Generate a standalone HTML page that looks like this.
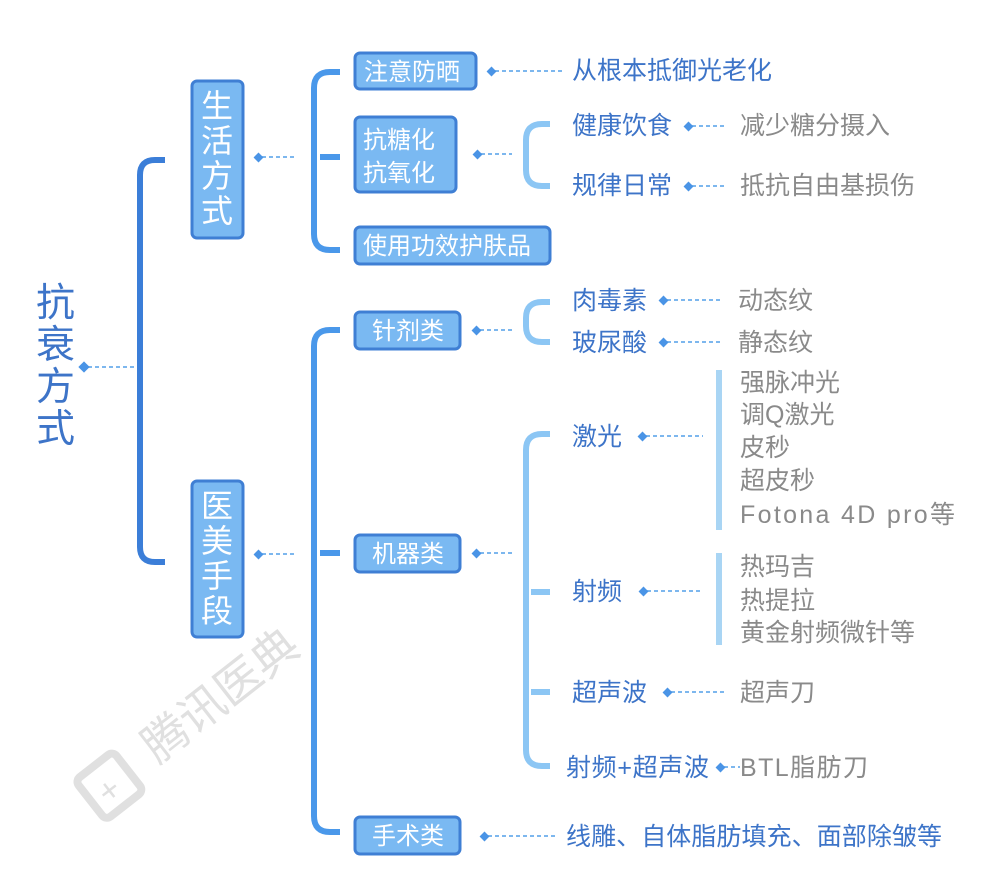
<!DOCTYPE html>
<html><head><meta charset="utf-8"><style>
html,body{margin:0;padding:0;background:#fff;}
svg{display:block;}
text{font-family:"Liberation Sans","Noto Sans CJK SC",sans-serif;}
.b{fill:#3d74c8;font-size:25px;}
.g{fill:#8a8a8a;font-size:25px;}
.w{fill:#fff;font-size:24px;}
.box{fill:#7ab9f2;stroke:#3f7fd4;stroke-width:3;}
.d{stroke:#7db7ee;stroke-width:2;stroke-dasharray:4 3;fill:none;}
.dm{fill:#4a94e6;}
</style></head><body>
<svg width="990" height="895" viewBox="0 0 990 895" xmlns="http://www.w3.org/2000/svg">
<g transform="translate(195,715) rotate(-38)">
<text x="-60" y="16" font-size="46" fill="#e0e0e0">腾讯医典</text>
<rect x="-135" y="-22" width="48" height="50" rx="6" fill="none" stroke="#e0e0e0" stroke-width="8"/>
<text x="-124" y="18" font-size="34" fill="#e0e0e0">+</text>
</g>
<g class="b">
<text x="36" y="316" style="font-size:39px">抗</text>
<text x="36" y="358" style="font-size:39px">衰</text>
<text x="36" y="400" style="font-size:39px">方</text>
<text x="36" y="442" style="font-size:39px">式</text>
</g>
<path class="d" d="M88 367 H136"/><rect class="dm" x="80" y="363" width="8" height="8" transform="rotate(45 84 367)"/>
<path d="M165 160 H155 Q140 160 140 175 V547 Q140 562 155 562 H165" stroke="#3b7ed8" stroke-width="6" fill="none"/>
<rect class="box" x="192" y="81" width="51" height="157" rx="5"/>
<g class="w"><text x="201" y="117" style="font-size:32px">生</text><text x="201" y="152" style="font-size:32px">活</text><text x="201" y="187" style="font-size:32px">方</text><text x="201" y="222" style="font-size:32px">式</text></g>
<rect class="box" x="192" y="481" width="51" height="156" rx="5"/>
<g class="w"><text x="201" y="517" style="font-size:32px">医</text><text x="201" y="552" style="font-size:32px">美</text><text x="201" y="587" style="font-size:32px">手</text><text x="201" y="622" style="font-size:32px">段</text></g>
<path class="d" d="M262 157 H296"/><rect class="dm" x="255" y="154" width="7" height="7" transform="rotate(45 258.5 157.5)"/>
<path class="d" d="M262 554 H296"/><rect class="dm" x="255" y="551" width="7" height="7" transform="rotate(45 258.5 554.5)"/>
<path d="M340 72 H330 Q314 72 314 88 V234 Q314 250 330 250 H340 M320 157 H340" stroke="#4a98ea" stroke-width="6" fill="none"/>
<rect class="box" x="355" y="53" width="121" height="36" rx="5"/><text class="w" x="364" y="80">注意防晒</text>
<rect class="box" x="355" y="117" width="101" height="75" rx="5"/><text class="w" x="363" y="148">抗糖化</text><text class="w" x="363" y="181">抗氧化</text>
<rect class="box" x="355" y="227" width="195" height="37" rx="5"/><text class="w" x="363" y="254">使用功效护肤品</text>
<path class="d" d="M495 71 H564"/><rect class="dm" x="488" y="68" width="7" height="7" transform="rotate(45 491.5 71.5)"/>
<text class="b" x="572" y="79">从根本抵御光老化</text>
<path class="d" d="M481 154 H512"/><rect class="dm" x="474" y="151" width="7" height="7" transform="rotate(45 477.5 154.5)"/>
<path d="M550 124 H542 Q526 124 526 140 V170 Q526 186 542 186 H550" stroke="#8cc6f4" stroke-width="6" fill="none"/>
<text class="b" x="572" y="134">健康饮食</text><text class="b" x="572" y="194">规律日常</text>
<path class="d" d="M692 126 H725"/><rect class="dm" x="685" y="123" width="7" height="7" transform="rotate(45 688.5 126.5)"/>
<path class="d" d="M692 186 H725"/><rect class="dm" x="685" y="183" width="7" height="7" transform="rotate(45 688.5 186.5)"/>
<text class="g" x="740" y="134">减少糖分摄入</text><text class="g" x="740" y="194">抵抗自由基损伤</text>
<path d="M340 330 H330 Q314 330 314 346 V816 Q314 832 330 832 H340 M320 553 H340" stroke="#4a98ea" stroke-width="6" fill="none"/>
<rect class="box" x="355" y="312" width="105" height="37" rx="5"/><text class="w" x="372" y="339">针剂类</text>
<rect class="box" x="355" y="535" width="105" height="37" rx="5"/><text class="w" x="372" y="562">机器类</text>
<rect class="box" x="355" y="817" width="105" height="37" rx="5"/><text class="w" x="372" y="844">手术类</text>
<path class="d" d="M480 330 H512"/><rect class="dm" x="473" y="327" width="7" height="7" transform="rotate(45 476.5 330.5)"/>
<path class="d" d="M480 553 H512"/><rect class="dm" x="473" y="550" width="7" height="7" transform="rotate(45 476.5 553.5)"/>
<path class="d" d="M488 836 H555"/><rect class="dm" x="481" y="833" width="7" height="7" transform="rotate(45 484.5 836.5)"/>
<text class="b" x="566" y="845" textLength="376">线雕、自体脂肪填充、面部除皱等</text>
<path d="M550 302 H542 Q526 302 526 318 V326 Q526 342 542 342 H550" stroke="#8cc6f4" stroke-width="6" fill="none"/>
<text class="b" x="572" y="309">肉毒素</text><text class="b" x="572" y="351">玻尿酸</text>
<path class="d" d="M667 300 H723"/><rect class="dm" x="660" y="297" width="7" height="7" transform="rotate(45 663.5 300.5)"/>
<path class="d" d="M667 342 H723"/><rect class="dm" x="660" y="339" width="7" height="7" transform="rotate(45 663.5 342.5)"/>
<text class="g" x="738" y="309">动态纹</text><text class="g" x="738" y="351">静态纹</text>
<path d="M550 434 H542 Q526 434 526 450 V750 Q526 766 542 766 H550 M531 592 H550 M531 692 H550" stroke="#8cc6f4" stroke-width="6" fill="none"/>
<text class="b" x="572" y="445">激光</text>
<path class="d" d="M646 436 H703"/><rect class="dm" x="639" y="433" width="7" height="7" transform="rotate(45 642.5 436.5)"/>
<rect x="716" y="370" width="6" height="160" fill="#a9d5f4"/>
<text class="g" x="740" y="391">强脉冲光</text><text class="g" x="740" y="423">调Q激光</text><text class="g" x="740" y="456">皮秒</text><text class="g" x="740" y="489">超皮秒</text><text class="g" x="740" y="523" textLength="215">Fotona 4D pro等</text>
<text class="b" x="572" y="600">射频</text>
<path class="d" d="M647 591 H703"/><rect class="dm" x="640" y="588" width="7" height="7" transform="rotate(45 643.5 591.5)"/>
<rect x="716" y="553" width="6" height="92" fill="#a9d5f4"/>
<text class="g" x="740" y="575">热玛吉</text><text class="g" x="740" y="609">热提拉</text><text class="g" x="740" y="641">黄金射频微针等</text>
<text class="b" x="572" y="701">超声波</text>
<path class="d" d="M671 692 H727"/><rect class="dm" x="664" y="689" width="7" height="7" transform="rotate(45 667.5 692.5)"/>
<text class="g" x="740" y="701">超声刀</text>
<text class="b" x="566" y="776" textLength="143">射频+超声波</text>
<path class="d" d="M724 767 H740"/><rect class="dm" x="717" y="764" width="7" height="7" transform="rotate(45 720.5 767.5)"/>
<text class="g" x="740" y="776" textLength="128">BTL脂肪刀</text>
</svg>
</body></html>
